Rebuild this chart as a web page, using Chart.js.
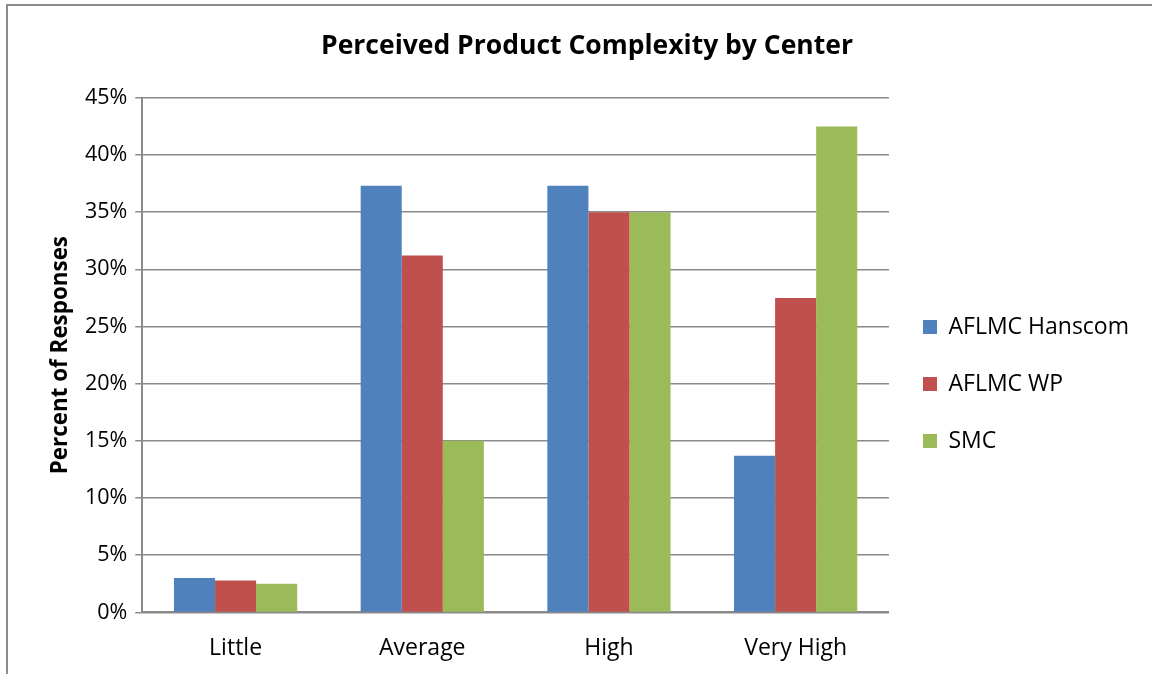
<!DOCTYPE html>
<html>
<head>
<meta charset="utf-8">
<script src="https://cdn.jsdelivr.net/npm/chart.js@4/dist/chart.umd.min.js"></script>
<style>
  html, body { margin: 0; padding: 0; background: #fff; }
  #wrap { position: relative; width: 1152px; height: 674px; overflow: hidden; }
  #frame { position: absolute; left: 6px; top: 4px; width: 1200px; height: 720px;
           border-left: 2px solid #8c8c8c; border-top: 2px solid #8c8c8c; box-sizing: border-box; }
  canvas { position: absolute; left: 0; top: 0; }
</style>
</head>
<body>
<div id="wrap">
  <div id="frame"></div>
  <canvas id="chart" width="1152" height="674"></canvas>
</div>
<script>
// Response levels along the x axis
const categories = ['Little', 'Average', 'High', 'Very High'];

// Percent of responses per center
const hanscomValues = [3.0, 37.3, 37.3, 13.7];
const wpValues      = [2.8, 31.2, 35.0, 27.5];
const smcValues     = [2.5, 15.0, 35.0, 42.5];

const seriesNames = ['AFLMC Hanscom', 'AFLMC WP', 'SMC'];

// Y axis range and tick step (percent)
const yMin = 0;
const yMax = 45;
const yStep = 5;

const FONT = "'Open Sans', Lato, 'Liberation Sans', sans-serif";
const gridColor = '#8a8a8a';

Chart.defaults.font.family = FONT;
Chart.defaults.color = '#000';

new Chart(document.getElementById('chart'), {
  type: 'bar',
  data: {
    labels: categories,
    datasets: [
      { label: seriesNames[0], data: hanscomValues, backgroundColor: '#4F81BD' },
      { label: seriesNames[1], data: wpValues,      backgroundColor: '#C0504D' },
      { label: seriesNames[2], data: smcValues,     backgroundColor: '#9BBB59' }
    ]
  },
  options: {
    responsive: false,
    animation: false,
    devicePixelRatio: 1,
    layout: { padding: { left: 35, right: 13, top: 0, bottom: -10 } },
    datasets: { bar: { categoryPercentage: 0.66, barPercentage: 1.0, borderWidth: 0 } },
    plugins: {
      title: {
        display: true,
        text: 'Perceived Product Complexity by Center',
        font: { size: 26.5, weight: 'bold' },
        color: '#000',
        padding: { top: 31, bottom: 35 }
      },
      legend: {
        position: 'right',
        align: 'center',
        // empty title block: only used to push the key entries lower
        title: { display: true, text: '', font: { size: 10 }, padding: { top: 0, bottom: 72 } },
        labels: {
          boxWidth: 14,
          boxHeight: 14,
          padding: 34,
          font: { size: 23 },
          color: '#000'
        }
      },
      tooltip: { enabled: false }
    },
    scales: {
      x: {
        grid: { display: false, drawTicks: false },
        border: { display: true, color: gridColor, width: 2 },
        ticks: { font: { size: 23 }, color: '#000', padding: 22 }
      },
      y: {
        min: yMin,
        max: yMax,
        ticks: {
          stepSize: yStep,
          font: { size: 21.5 },
          color: '#000',
          padding: 8,
          callback: v => v + '%'
        },
        grid: { color: gridColor, lineWidth: 1.5, tickLength: 7, drawTicks: true },
        border: { display: true, color: gridColor, width: 2 },
        title: {
          display: true,
          text: 'Percent of Responses',
          font: { size: 22.4, weight: 'bold' },
          color: '#000',
          padding: { top: 12, bottom: 3 }
        }
      }
    }
  }
});
</script>
</body>
</html>
